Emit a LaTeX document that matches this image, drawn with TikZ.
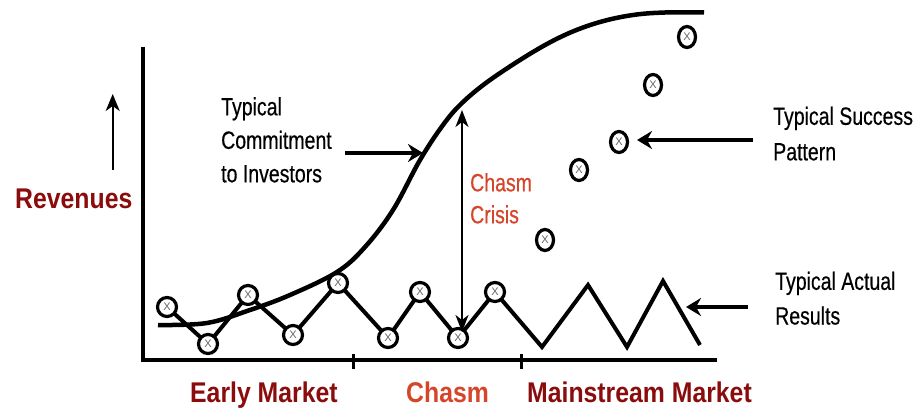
\documentclass[tikz,border=0pt]{standalone}
\usepackage{fontspec}
\setmainfont{Liberation Sans}
\newfontfamily\lblfont[FakeStretch=0.78,FakeBold=0.4]{Liberation Sans}
\newfontfamily\mkfont{Liberation Sans}
\newfontfamily\bigfont[FakeStretch=0.87]{Liberation Sans}
\usetikzlibrary{arrows.meta,shapes.geometric}
\definecolor{darkred}{HTML}{8A0C0C}
\definecolor{chasmred}{HTML}{D6452A}
\begin{document}
\begin{tikzpicture}[x=1pt,y=-1pt,
  lbl/.style={font=\lblfont\fontsize{25}{35.5}\selectfont, align=left, inner sep=0pt, anchor=north west},
  big/.style={font=\bigfont\bfseries\fontsize{28.5}{30}\selectfont, text=darkred, inner sep=0pt, anchor=base west},
  axis/.style={line width=4pt},
  tick/.style={line width=3pt},
  curve/.style={line width=4.5pt, line join=round},
  zz/.style={line width=4pt, line join=miter},
  mk/.style={circle, draw, line width=3.2pt, fill=white, minimum size=19pt, inner sep=0pt,
             font=\mkfont\fontsize{11}{11}\selectfont, text=black!60},
  mke/.style={ellipse, draw, line width=3.2pt, fill=white, minimum width=17pt, minimum height=21pt, inner sep=0pt,
             font=\mkfont\fontsize{11}{11}\selectfont, text=black!60},
  thickarrow/.style={line width=4pt, -{Stealth[length=15pt,width=18pt,inset=5pt]}},
  thinarrow/.style={line width=2pt, {Stealth[length=17pt,width=13pt,inset=5pt]}-{Stealth[length=17pt,width=13pt,inset=5pt]}},
  uparrow/.style={line width=2pt, -{Stealth[length=17pt,width=14pt,inset=5pt]}}
]
\useasboundingbox (0,0) rectangle (917,411);
\fill[white] (0,0) rectangle (917,411);

% axes
\coordinate (axtop) at (143,47);
\coordinate (axorig) at (143,360);
\coordinate (axend) at (717,360);
\draw[axis] (axtop) -- (axorig) -- (axend);
\coordinate (t1a) at (353,354); \coordinate (t1b) at (353,369);
\coordinate (t2a) at (521,354); \coordinate (t2b) at (521,369);
\draw[tick] (t1a) -- (t1b);
\draw[tick] (t2a) -- (t2b);

% revenues
\node[big] (rev) at (15,209) {Revenues};
\coordinate (upa) at (112.7,170);
\coordinate (upb) at (112.7,94);
\draw[uparrow] (upa) -- (upb);

% S-curve
\draw[curve] plot[smooth, tension=0.6] coordinates {(158,325) (207,323) (250,310) (290,295) (337,272) (365,247) (393,210) (420,160) (443,125) (462,103) (490,80) (533,52) (567,34) (600,22) (633,15) (665,12.5) (704,12.5)};

% zigzag
\coordinate (p1) at (167,307);
\coordinate (p2) at (208,344);
\coordinate (p3) at (248,295);
\coordinate (p4) at (293,335);
\coordinate (p5) at (338,283);
\coordinate (p6) at (388,338);
\coordinate (p7) at (420,292);
\coordinate (p8) at (458,338);
\coordinate (p9) at (495,292);
\coordinate (z1) at (542,347);
\coordinate (z2) at (588,285);
\coordinate (z3) at (627,347);
\coordinate (z4) at (663,281);
\coordinate (z5) at (700,345);
\draw[zz] (p1) -- (p2) -- (p3) -- (p4) -- (p5) -- (p6) -- (p7) -- (p8) -- (p9) -- (z1) -- (z2) -- (z3) -- (z4) -- (z5);

\foreach \i in {1,...,9} {\node[mk] (m\i) at (p\i) {X};}

% success pattern markers
\node[mke] (s1) at (545,240) {X};
\node[mke] (s2) at (579,170) {X};
\node[mke] (s3) at (619,142) {X};
\node[mke] (s4) at (653,85) {X};
\node[mke] (s5) at (687,37) {X};

% chasm crisis arrow
\coordinate (ctop) at (462,110);
\coordinate (cbot) at (462,332);
\draw[thinarrow] (ctop) -- (cbot);
\node[lbl, text=chasmred, font=\lblfont\fontsize{25}{32}\selectfont] (crisis) at (470,173) {Chasm\\Crisis};

% commitment label
\node[lbl, font=\lblfont\fontsize{25}{33.5}\selectfont] (commit) at (221,97) {Typical\\Commitment\\to Investors};
\coordinate (ca) at (345,153);
\coordinate (cb) at (423,153);
\draw[thickarrow] (ca) -- (cb);

% success label
\node[lbl] (succ) at (773,106.5) {Typical Success\\Pattern};
\coordinate (sa) at (753,140);
\coordinate (sb) at (637,140);
\draw[thickarrow] (sa) -- (sb);

% actual label
\node[lbl, font=\lblfont\fontsize{25}{34.7}\selectfont] (act) at (775,271.5) {Typical Actual\\Results};
\coordinate (aa) at (748,307);
\coordinate (ab) at (686,307);
\draw[thickarrow] (aa) -- (ab);

% bottom labels
\node[big] (early) at (190,402) {Early Market};
\node[big, text=chasmred] (chasm) at (406,402) {Chasm};
\node[big] (main) at (527,402) {Mainstream Market};
\end{tikzpicture}
\end{document}
